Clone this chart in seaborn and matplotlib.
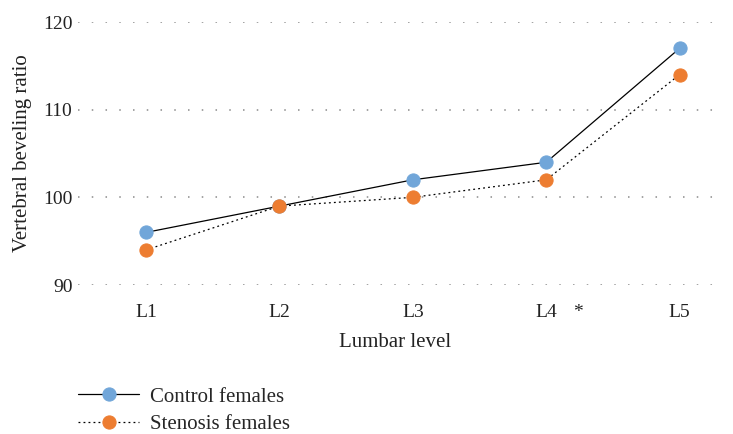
import pandas as pd
import matplotlib
matplotlib.use("Agg")
import matplotlib.pyplot as plt
import seaborn as sns

# Datos
niveles = ["L1", "L2", "L3", "L4", "L5"]
control_mujeres = [96, 99, 102, 104, 117]
estenosis_mujeres = [94, 99, 100, 102, 114]

sns.set_style("white")
plt.rcParams["font.family"] = ["Liberation Serif", "DejaVu Serif"]

df = pd.DataFrame({"nivel": niveles, "control": control_mujeres, "estenosis": estenosis_mujeres})

fig = plt.figure(figsize=(7.33, 4.34), dpi=100)
ax = fig.add_axes([0.1064, 0.3433, 0.8663, 0.606])

sns.lineplot(data=df, x="nivel", y="control", ax=ax, color="black", lw=0.9,
             marker="o", markersize=9.5, markerfacecolor="#71a6d9", markeredgecolor="#71a6d9",
             label="Control females", zorder=3)
sns.lineplot(data=df, x="nivel", y="estenosis", ax=ax, color="black", lw=0.9, linestyle=(0, (1.5, 2.5)),
             marker="o", markersize=9.5, markerfacecolor="#ed7d31", markeredgecolor="#ed7d31",
             label="Stenosis females", zorder=3)

ax.set_xlim(-0.51, 4.25)
ax.set_ylim(90, 120)
ax.set_yticks([90, 100, 110, 120])
ax.grid(axis="y", color="#8a8a8a", linestyle=(0, (1, 8)), lw=1.1)
ax.grid(axis="x", visible=False)
sns.despine(ax=ax, left=True, bottom=True)
ax.tick_params(axis="x", length=0, pad=14, labelsize=14, colors="#222222")
ax.tick_params(axis="y", length=0, pad=4, labelsize=14, colors="#222222")
ax.set_xlabel("Lumbar level", fontsize=15, color="#222222", labelpad=8)
ax.set_ylabel("Vertebral beveling ratio", fontsize=15, color="#222222", labelpad=8)

# asterisco junto a L4
ax.text(3.24, -0.105, "*", transform=ax.get_xaxis_transform(), ha="center", va="center",
        fontsize=14, color="#222222")

ax.get_legend().remove()
h, l = ax.get_legend_handles_labels()
fig.legend(h, l, loc="upper left", bbox_to_anchor=(0.107, 0.108), frameon=False,
           fontsize=15, handlelength=2.9, handletextpad=0.55, labelspacing=0.38,
           borderaxespad=0, borderpad=0)

fig.savefig("out.png", dpi=100)
